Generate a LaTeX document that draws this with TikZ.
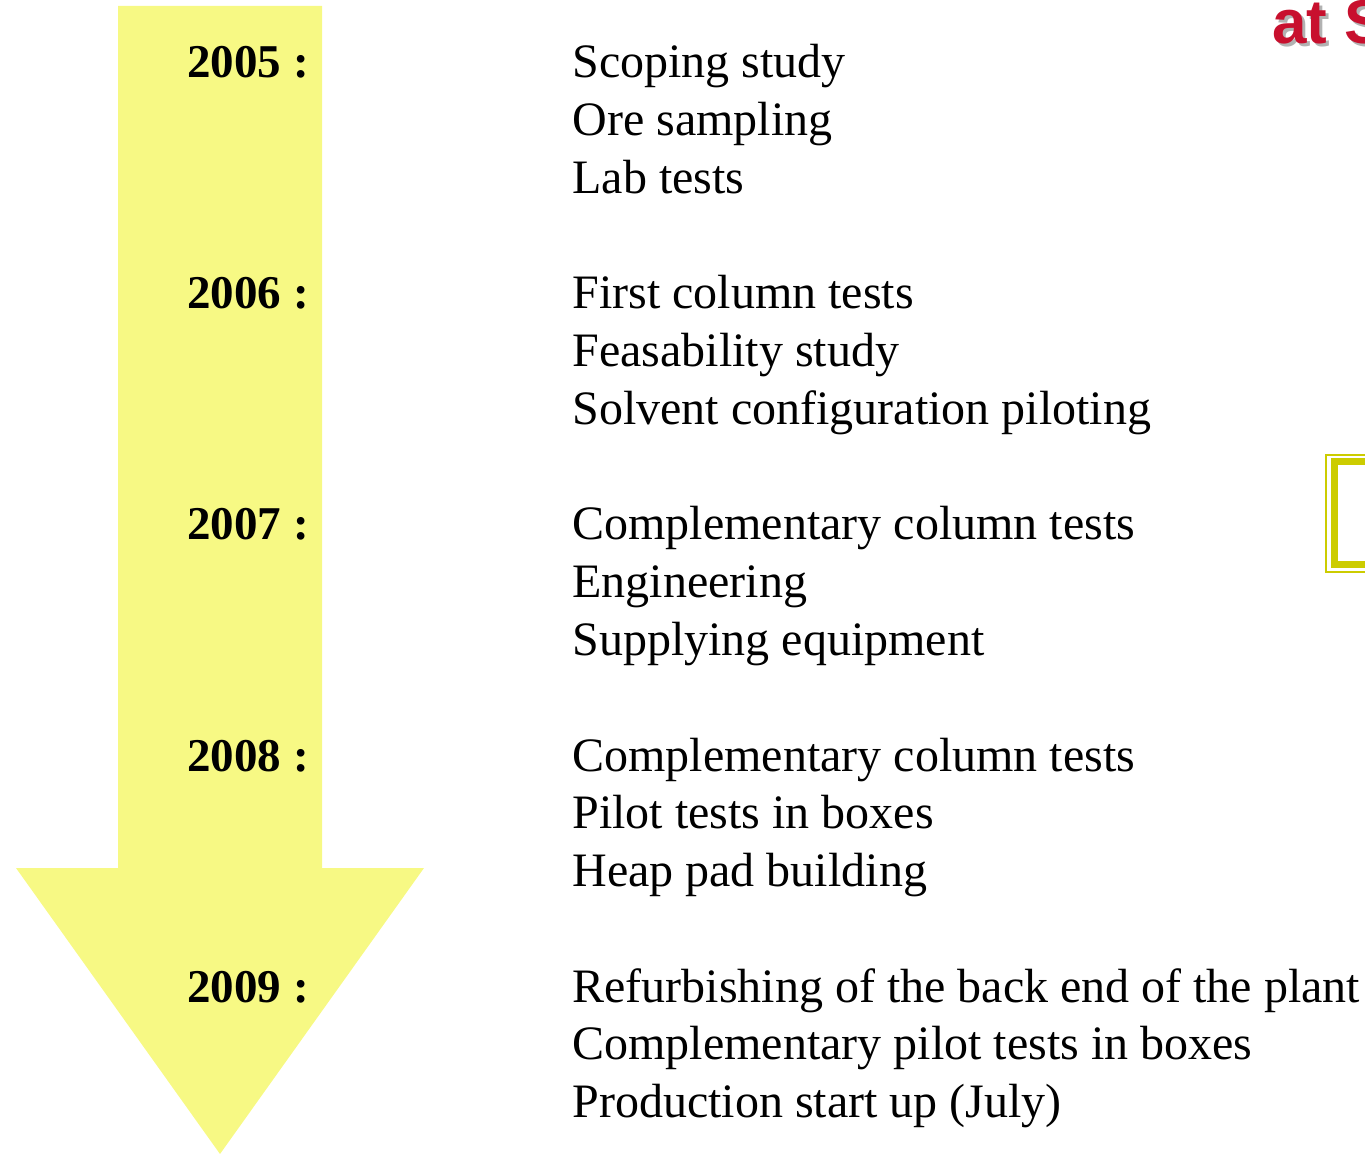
\documentclass[tikz,border=0pt]{standalone}
\usepackage{fontspec}
\setmainfont{Liberation Serif}
\newfontfamily\headfont{Liberation Sans}
\definecolor{arrowyellow}{HTML}{F7F984}
\definecolor{boxolive}{HTML}{CCCC00}
\definecolor{titlered}{HTML}{C8102E}
\tikzset{
  yearlabel/.style={anchor=base west,inner sep=0pt,font=\fontsize{23.5}{28}\selectfont\bfseries},
  steplabel/.style={anchor=base west,inner sep=0pt,font=\fontsize{24}{28}\selectfont},
}
\begin{document}
\begin{tikzpicture}[x=0.5pt,y=-0.5pt]
        \useasboundingbox (0,0) rectangle (1365,1154);
        \clip (0,0) rectangle (1365,1154);

        % Time arrow
        \fill [arrowyellow] (118,6) -- (322,6) -- (322,868) -- (424,868)
            -- (220,1154) -- (16,868) -- (118,868) -- cycle;

        % Title fragment
        \node[anchor=base west,inner sep=0pt,gray!60,font=\fontsize{31}{36}\selectfont\headfont\bfseries] at (1275,47) {at S};
        \node[anchor=base west,inner sep=0pt,titlered,font=\fontsize{31}{36}\selectfont\headfont\bfseries] (title) at (1272,44) {at S};

        % Framed box
        \draw [boxolive,line width=1pt] (1400,455) -- (1326,455) -- (1326,572) -- (1400,572);
        \draw [boxolive,line width=3.5pt] (1400,462) -- (1334,462) -- (1334,565) -- (1400,565);

        % 2005
        \node[yearlabel] (y2005) at (187,78) {2005 :};
        \node[steplabel] (s2005a) at (572,78) {Scoping study};
        \node[steplabel] (s2005b) at (572,135.7) {Ore sampling};
        \node[steplabel] (s2005c) at (572,193.4) {Lab tests};

        % 2006
        \node[yearlabel] (y2006) at (187,309) {2006 :};
        \node[steplabel] (s2006a) at (572,309) {First column tests};
        \node[steplabel] (s2006b) at (572,366.7) {Feasability study};
        \node[steplabel] (s2006c) at (572,424.4) {Solvent configuration piloting};

        % 2007
        \node[yearlabel] (y2007) at (187,540) {2007 :};
        \node[steplabel] (s2007a) at (572,540) {Complementary column tests};
        \node[steplabel] (s2007b) at (572,597.7) {Engineering};
        \node[steplabel] (s2007c) at (572,655.4) {Supplying equipment};

        % 2008
        \node[yearlabel] (y2008) at (187,771) {2008 :};
        \node[steplabel] (s2008a) at (572,771) {Complementary column tests};
        \node[steplabel] (s2008b) at (572,828.7) {Pilot tests in boxes};
        \node[steplabel] (s2008c) at (572,886.4) {Heap pad building};

        % 2009
        \node[yearlabel] (y2009) at (187,1002) {2009 :};
        \node[steplabel] (s2009a) at (572,1002) {Refurbishing of the back end of the plant};
        \node[steplabel] (s2009b) at (572,1059.7) {Complementary pilot tests in boxes};
        \node[steplabel] (s2009c) at (572,1117.4) {Production start up (July)};
\end{tikzpicture}
\end{document}
